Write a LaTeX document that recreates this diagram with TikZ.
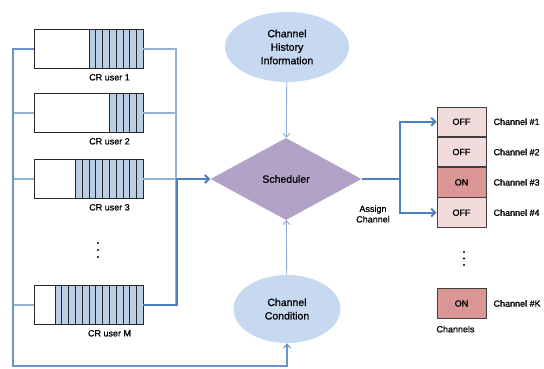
\documentclass[tikz,border=0pt]{standalone}
\usepackage{fontspec}
\setmainfont{Liberation Sans}[RawFeature={embolden=0.8}]
\usetikzlibrary{shapes.geometric, arrows.meta, positioning}
\definecolor{ellblue}{HTML}{C6D9F1}
\definecolor{cellblue}{HTML}{B9CDE5}
\definecolor{schedpurple}{HTML}{B3A2C7}
\definecolor{offpink}{HTML}{F2DCDB}
\definecolor{onred}{HTML}{D99694}
\definecolor{linkblue}{HTML}{4F81BD}
\definecolor{stubblue}{HTML}{95B3D7}
\definecolor{qborder}{HTML}{262626}
\definecolor{chborder}{HTML}{404040}
\tikzset{
  queuenode/.style={
    rectangle, draw=qborder, fill=white, line width=0.9pt,
    minimum width=109pt, minimum height=39pt, inner sep=0pt
  },
  cell/.style={draw=qborder, fill=cellblue, line width=0.9pt},
  userlabel/.style={font=\fontsize{9}{10.5}\selectfont, inner sep=1pt},
  infonode/.style={
    ellipse, fill=ellblue, inner sep=0pt, align=center,
    font=\fontsize{10.5}{13.5}\selectfont
  },
  schednode/.style={
    diamond, fill=schedpurple, inner sep=0pt, aspect=1.84,
    minimum width=151pt, minimum height=82pt,
    font=\fontsize{10.5}{12}\selectfont
  },
  chbox/.style={
    rectangle, draw=chborder, line width=0.8pt, inner sep=0pt,
    minimum width=49pt, minimum height=29.5pt,
    font=\fontsize{9}{10}\selectfont
  },
  offbox/.style={chbox, fill=offpink},
  onbox/.style={chbox, fill=onred},
  chlabel/.style={anchor=west, inner sep=0pt, font=\fontsize{9}{10}\selectfont},
  stub/.style={draw=stubblue, line width=1.1pt},
  feedline/.style={draw=linkblue!85, line width=1.1pt,
    -{Straight Barb[length=4pt,width=7pt]}},
  thinarrow/.style={draw=stubblue!90!linkblue, line width=0.9pt,
    -{Straight Barb[length=4pt,width=7pt]}},
  thickarrow/.style={draw=linkblue, line width=2pt,
    -{Straight Barb[length=4pt,width=8pt]}},
  thickline/.style={draw=linkblue, line width=2pt}
}

\begin{document}
\begin{tikzpicture}[x=1pt, y=1pt]
  \useasboundingbox (0,0) rectangle (544,369);

  %% --- CR user queues ---
  \node[queuenode] (q1) at (88.5,320) {};
  \node[queuenode] (q2) at (88.5,256) {};
  \node[queuenode] (q3) at (88.5,190) {};
  \node[queuenode] (qM) at (88.5,64)  {};
  \foreach \q/\n in {q1/8, q2/5, q3/10, qM/13} {
    \foreach \i in {1,...,\n}
      \draw[cell] ([xshift=-\i*6.8pt]\q.south east) rectangle ++(6.8,39);
  }

  \node[userlabel, below=4pt of q1, xshift=21pt] (l1) {CR user 1};
  \node[userlabel, below=4pt of q2, xshift=21pt] (l2) {CR user 2};
  \node[userlabel, below=4pt of q3, xshift=21pt] (l3) {CR user 3};
  \node[userlabel, below=4pt of qM, xshift=21pt] (lM) {CR user M};

  \foreach \y in {126,119,112}
    \fill (98,\y) circle (1.2pt);

  %% --- Scheduler and its inputs ---
  \node[schednode] (sched) at (286,190) {Scheduler};
  \node[infonode, minimum width=124pt, minimum height=70pt] (hist) at (287,322)
    {Channel\\History\\Information};
  \node[infonode, minimum width=107pt, minimum height=68pt] (cond) at (287,60)
    {Channel\\Condition};

  %% --- Channels ---
  \node[offbox] (ch1) at (461.5,247.25) {OFF};
  \node[offbox, below=0pt of ch1] (ch2) {OFF};
  \node[onbox,  below=0pt of ch2] (ch3) {ON};
  \node[offbox, below=0pt of ch3] (ch4) {OFF};
  \node[onbox] (chK) at (461.5,65.5) {ON};

  \node[chlabel, right=7pt of ch1] (c1) {Channel \#1};
  \node[chlabel, right=7pt of ch2] (c2) {Channel \#2};
  \node[chlabel, right=7pt of ch3] (c3) {Channel \#3};
  \node[chlabel, right=7pt of ch4] (c4) {Channel \#4};
  \node[chlabel, right=7pt of chK] (cK) {Channel \#K};
  \node[userlabel, below=6pt of chK, xshift=-6pt] (chs) {Channels};

  \foreach \y in {117,110.5,104}
    \fill (464,\y) circle (1.2pt);

  \node[userlabel, align=center] (assign) at (373,155) {Assign\\Channel};

  %% --- Bus lines ---
  \coordinate (rbx) at (176,0);
  \coordinate (lb)  at (13,3);
  \draw[stub] (q1.east) -- (q1.east -| rbx) -- (qM.east -| rbx);
  \draw[stub] (q2.east) -- (q2.east -| rbx);
  \draw[stub] (q3.east) -- (q3.east -| rbx);
  \draw[stub] (q2.west) -- (q2.west -| lb);
  \draw[stub] (q3.west) -- (q3.west -| lb);
  \draw[stub] (qM.west) -- (qM.west -| lb);
  \draw[feedline] (q1.west) -| (lb) -| (cond.south);

  %% --- Arrows ---
  \draw[thickline] (qM.east) -| ([xshift=1pt]q3.east -| rbx);
  \draw[thickarrow] (q3.east -| rbx) -- (sched.west);
  \draw[thinarrow] (hist) -- (sched);
  \draw[thinarrow] (cond) -- (sched);

  \coordinate (split) at (400,190);
  \draw[thickline] (sched.east) -- (split);
  \draw[thickarrow] (split) |- (ch1.west);
  \draw[thickarrow] (split) |- (ch4.west);

\end{tikzpicture}
\end{document}
